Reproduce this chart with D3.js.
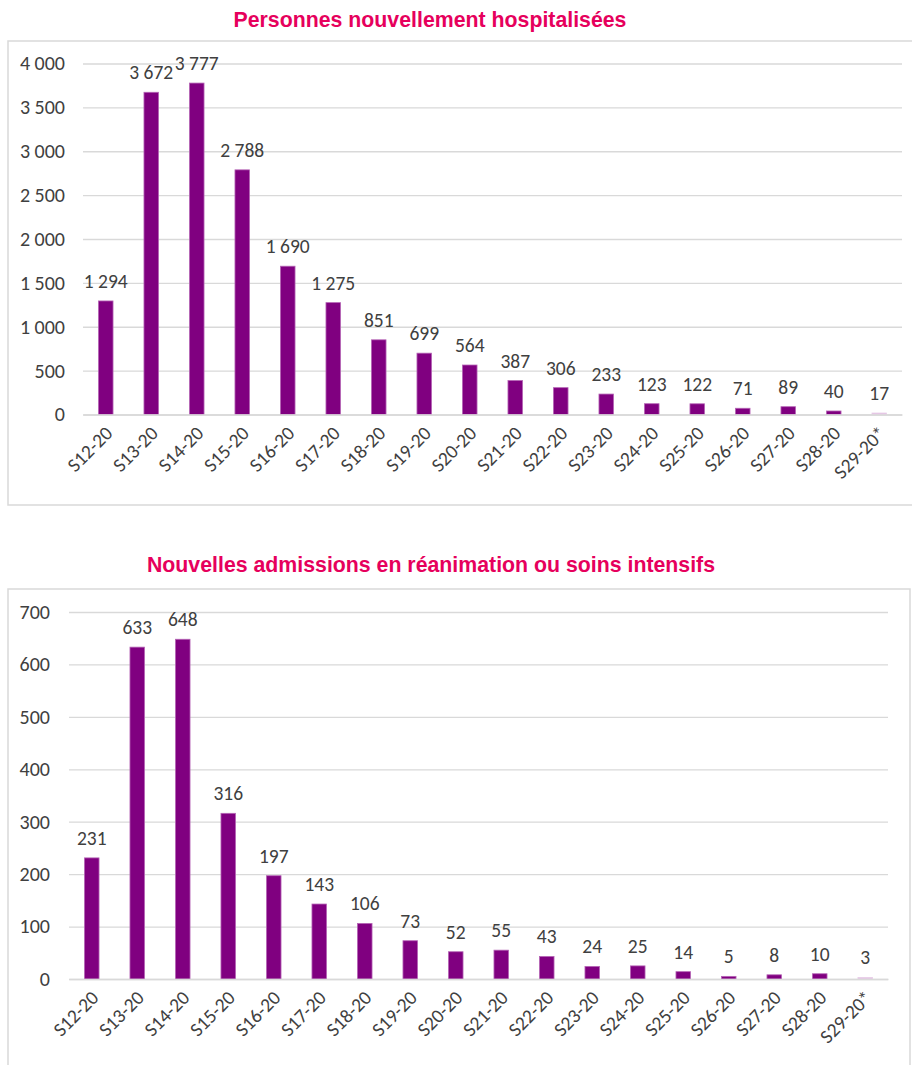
<!DOCTYPE html>
<html>
<head>
<meta charset="utf-8">
<script src="https://cdn.jsdelivr.net/npm/d3@7"></script>
<style>
  html, body { margin: 0; padding: 0; background: #fff; }
  svg { display: block; }
  .title { font-family: "Liberation Sans", Arial, sans-serif; font-weight: bold; font-size: 21.3px; fill: #e6005c; }
  .tick text, .val { font-family: Carlito, Calibri, Lato, "Open Sans", sans-serif; fill: #404040; }
</style>
</head>
<body>
<script>
  const weeks = ['S12-20', 'S13-20', 'S14-20', 'S15-20', 'S16-20', 'S17-20', 'S18-20', 'S19-20', 'S20-20',
    'S21-20', 'S22-20', 'S23-20', 'S24-20', 'S25-20', 'S26-20', 'S27-20', 'S28-20', 'S29-20*'];
  const hospitalises = [1294, 3672, 3777, 2788, 1690, 1275, 851, 699, 564, 387, 306, 233, 123, 122, 71, 89, 40, 17];
  const reanimation = [231, 633, 648, 316, 197, 143, 106, 73, 52, 55, 43, 24, 25, 14, 5, 8, 10, 3];
  const hospTicks = [0, 500, 1000, 1500, 2000, 2500, 3000, 3500, 4000];
  const reaTicks = [0, 100, 200, 300, 400, 500, 600, 700];

  const width = 912;
  const height = 1065;
  const fr = d3.formatLocale({ decimal: ',', thousands: '\u00a0', grouping: [3], currency: ['', ' €'] });
  const fmt = fr.format(',d');

  const svg = d3.select('body').append('svg')
    .attr('width', width)
    .attr('height', height);

  const render = (cfg) => {
    // chart frame
    svg.append('rect')
      .attr('x', cfg.frame[0]).attr('y', cfg.frame[1])
      .attr('width', cfg.frame[2]).attr('height', cfg.frame[3])
      .attr('fill', 'none').attr('stroke', '#d9d9d9').attr('stroke-width', 1.5);

    svg.append('text')
      .attr('class', 'title')
      .attr('x', cfg.titleX).attr('y', cfg.titleY)
      .attr('text-anchor', 'middle')
      .text(cfg.title);

    const x = d3.scaleBand().domain(weeks).range(cfg.xRange).paddingInner(0.68).paddingOuter(0.34);
    const y = d3.scaleLinear().domain([0, cfg.max]).range(cfg.yRange);

    const g = svg.append('g');

    const yAxis = g.append('g')
      .attr('transform', `translate(${cfg.xRange[0]},0)`)
      .call(d3.axisLeft(y).tickValues(cfg.ticks).tickFormat(fmt)
        .tickSize(-(cfg.xRange[1] - cfg.xRange[0])).tickPadding(cfg.tickPad));
    yAxis.select('.domain').remove();
    yAxis.selectAll('.tick line').attr('stroke', '#d9d9d9').attr('stroke-width', 1.3);
    yAxis.selectAll('.tick text').attr('font-size', 20);

    g.selectAll('rect.bar')
      .data(cfg.values)
      .join('rect')
      .attr('class', 'bar')
      .attr('x', (d, i) => x(weeks[i]))
      .attr('y', (d) => y(d))
      .attr('width', x.bandwidth())
      .attr('height', (d) => y(0) - y(d))
      .attr('fill', (d, i) => i === weeks.length - 1 ? '#e3c4e3' : '#800080')
      .attr('stroke', (d, i) => i === weeks.length - 1 ? '#e8cce8' : '#b565b5')
      .attr('stroke-width', 0.8);

    g.selectAll('text.val')
      .data(cfg.values)
      .join('text')
      .attr('class', 'val')
      .attr('x', (d, i) => x(weeks[i]) + x.bandwidth() / 2)
      .attr('y', (d) => y(d) - 13)
      .attr('text-anchor', 'middle')
      .attr('font-size', 19.5)
      .text((d) => fmt(d));

    const xAxis = g.append('g')
      .attr('transform', `translate(0,${cfg.yRange[0]})`)
      .call(d3.axisBottom(x).tickSize(0).tickPadding(0));
    xAxis.select('.domain').attr('stroke', '#d9d9d9').attr('stroke-width', 1.3);
    xAxis.selectAll('.tick text')
      .attr('font-size', 19.5)
      .attr('text-anchor', 'end')
      .attr('dy', 0)
      .attr('transform', 'translate(8,20) rotate(-45)');
  };

  render({
    title: 'Personnes nouvellement hospitalisées',
    titleX: 430, titleY: 27,
    frame: [8, 41, 920, 464],
    values: hospitalises, ticks: hospTicks, max: 4000,
    xRange: [83, 902], yRange: [414.5, 63.5], tickPad: 18
  });

  render({
    title: 'Nouvelles admissions en réanimation ou soins intensifs',
    titleX: 431, titleY: 572,
    frame: [8, 589, 902, 500],
    values: reanimation, ticks: reaTicks, max: 700,
    xRange: [69, 888], yRange: [979, 612], tickPad: 19
  });
</script>
</body>
</html>
